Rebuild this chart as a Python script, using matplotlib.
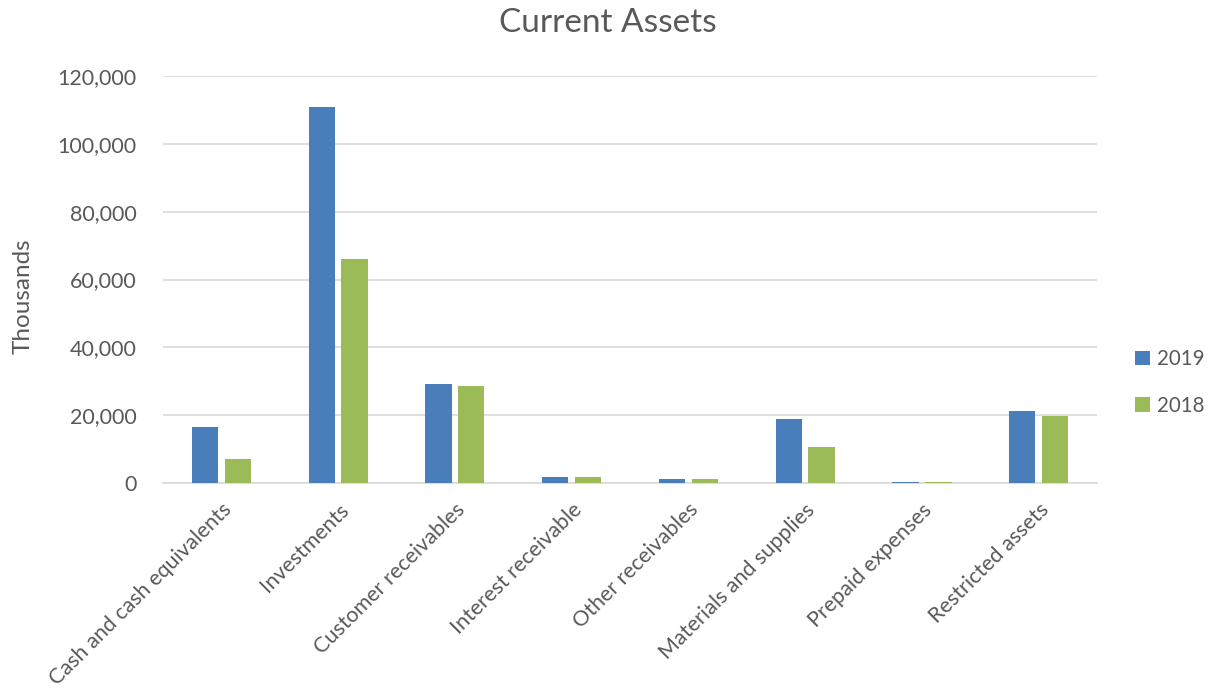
import matplotlib.pyplot as plt
import numpy as np

categories = ["Cash and cash equivalents", "Investments", "Customer receivables",
              "Interest receivable", "Other receivables", "Materials and supplies",
              "Prepaid expenses", "Restricted assets"]
vals_2019 = [16600, 110900, 29100, 1800, 1200, 19000, 350, 21200]
vals_2018 = [7100, 65900, 28600, 1800, 1200, 10500, 350, 19800]

plt.rcParams['font.family'] = ['Lato', 'DejaVu Sans']
txt = "#595959"

fig = plt.figure(figsize=(12.11, 6.94), dpi=100)
ax = fig.add_axes([0.1346, 0.304, 0.7713, 0.5865])

x = np.arange(len(categories))
w = 0.225
ax.bar(x - 0.141, vals_2019, w, color="#4A7EBB", label="2019", zorder=3)
ax.bar(x + 0.141, vals_2018, w, color="#9BBB59", label="2018", zorder=3)

ax.set_xlim(-0.5, len(categories) - 0.5)
ax.set_ylim(0, 120000)
ax.set_yticks(np.arange(0, 120001, 20000))
ax.set_yticklabels([f"{v:,}" for v in range(0, 120001, 20000)])
ax.yaxis.grid(True, color="#D9D9D9", linewidth=1.2, zorder=0)
ax.set_xticks(x)
ax.set_xticklabels(categories, rotation=45, ha='right', rotation_mode='anchor')
ax.tick_params(axis='both', length=0, labelsize=15.5, colors=txt)
ax.tick_params(axis='x', pad=12)
ax.tick_params(axis='y', pad=19)
for s in ["top", "right", "left"]:
    ax.spines[s].set_visible(False)
ax.spines["bottom"].set_color("#D9D9D9")
ax.spines["bottom"].set_linewidth(1.2)

ax.set_ylabel("Thousands", fontsize=17.5, color=txt)
ax.yaxis.set_label_coords(-0.139, 0.46)
fig.text(0.502, 0.967, "Current Assets", ha='center', va='center', fontsize=24, color=txt)

ax.legend(loc='center left', bbox_to_anchor=(1.021, 0.247), frameon=False,
          fontsize=14.8, labelcolor=txt, handlelength=0.7, handleheight=0.7,
          handletextpad=0.35, labelspacing=1.3)

fig.savefig("out.png", dpi=100)
